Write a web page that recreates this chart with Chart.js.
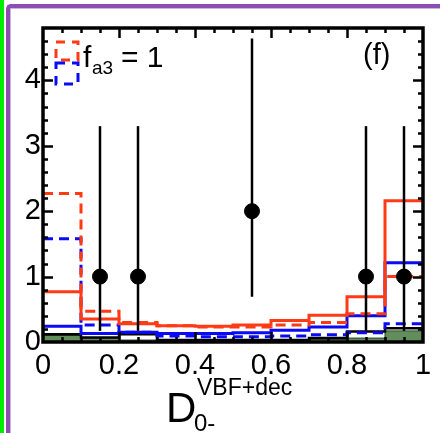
<!DOCTYPE html>
<html>
<head>
<meta charset="utf-8">
<script src="https://cdn.jsdelivr.net/npm/chart.js@4.4.1/dist/chart.umd.min.js"></script>
<style>
html, body { margin: 0; padding: 0; background: #fff; }
#wrap { position: relative; width: 440px; height: 433px; overflow: hidden; background: #fff; font-family: "Liberation Sans", Arial, Helvetica, sans-serif; color: #000; }
#c { position: absolute; left: 0; top: 0; }
.green-bar { position: absolute; left: 0; top: 0; width: 4px; height: 433px; background: #00ee00; }
.frame { position: absolute; left: 6px; top: 4px; width: 460px; height: 460px; border-top: 4px solid #8b4fb1; border-left: 4px solid #8b4fb1; border-top-left-radius: 5px; box-shadow: inset 1px 1px 0 #cdb4dd; }
.t { position: absolute; line-height: 1; white-space: nowrap; }
</style>
</head>
<body>
<div id="wrap">
  <div class="green-bar"></div>
  <div class="frame"></div>
  <canvas id="c" width="440" height="433"></canvas>
  <div class="t" style="left:83px;top:42px;font-size:30px">f</div>
  <div class="t" style="left:92px;top:58px;font-size:19px">a3</div>
  <div class="t" style="left:121px;top:42px;font-size:30px">= 1</div>
  <div class="t" style="left:363px;top:40px;font-size:29px">(f)</div>
  <div class="t" style="left:166px;top:387px;font-size:42px">D</div>
  <div class="t" style="left:197px;top:376px;font-size:23px">VBF+dec</div>
  <div class="t" style="left:194px;top:411px;font-size:24px">0-</div>
</div>
<script>
// bin edges of the 10 bins
const binEdges = [0, 0.1, 0.2, 0.3, 0.4, 0.5, 0.6, 0.7, 0.8, 0.9, 1.0];

// expected distributions
const redSolid  = [0.77, 0.35, 0.28, 0.25, 0.24, 0.26, 0.33, 0.41, 0.69, 2.16];
const redDashed = [2.27, 0.47, 0.30, 0.25, 0.23, 0.23, 0.26, 0.30, 0.43, 1.00];
const blueSolid = [0.24, 0.13, 0.15, 0.13, 0.13, 0.14, 0.18, 0.23, 0.40, 1.21];
const blueDashed = [1.58, 0.26, 0.15, 0.09, 0.08, 0.08, 0.09, 0.11, 0.14, 0.28];

// backgrounds
const bgTotal = [0.12, 0.07, 0.12, 0.03, 0.03, 0.03, 0.03, 0.06, 0.16, 0.21];
const bgGreen = [0.10, 0.06, 0.03, 0.02, 0.02, 0.02, 0.02, 0.04, 0.06, 0.17];

// observed events
const obsX  = [0.15, 0.25, 0.55, 0.85, 0.95];
const obsY  = [1, 1, 2, 1, 1];
const obsLo = [0.17, 0.17, 0.69, 0.17, 0.17];
const obsHi = [3.30, 3.30, 4.64, 3.30, 3.30];

const yTicks = [0, 1, 2, 3, 4];
const xTicks = [0, 0.2, 0.4, 0.6, 0.8, 1];

const RED = 'rgb(255,58,20)';
const BLUE = 'rgb(10,10,245)';
const FONT = '"Liberation Sans", Arial, Helvetica, sans-serif';

function hist(vals) {
    // one point per bin at its left edge, plus a closing point at the last edge
    const pts = vals.map((v, i) => ({ x: binEdges[i], y: v }));
    pts.push({ x: binEdges[binEdges.length - 1], y: vals[vals.length - 1] });
    return pts;
}

function line(data, color, dash, order) {
    return {
        data: hist(data),
        borderColor: color,
        borderWidth: 3,
        borderDash: dash,
        stepped: 'before',
        pointRadius: 0,
        fill: false,
        order
    };
}

// frame, inward ticks, error bars, legend boxes
const decor = {
    id: 'decor',
    afterDatasetsDraw(chart) {
        const { ctx, scales: { x, y } } = chart;
        ctx.save();
        ctx.strokeStyle = '#000';
        ctx.lineWidth = 2.5;
        obsX.forEach((v, i) => {
            const px = x.getPixelForValue(v);
            ctx.beginPath();
            ctx.moveTo(px, y.getPixelForValue(obsLo[i]));
            ctx.lineTo(px, y.getPixelForValue(obsHi[i]));
            ctx.stroke();
        });
        ctx.restore();
    },
    afterDraw(chart) {
        const { ctx, chartArea: a, scales: { x, y } } = chart;
        ctx.save();
        ctx.strokeStyle = '#000';
        ctx.lineWidth = 2.5;
        // y ticks every 0.2, major every 1
        for (let k = 1; k < 24; k++) {
            const py = Math.round(y.getPixelForValue(k * 0.2)) + 0.5;
            const len = (k % 5 === 0) ? 10 : 5;
            ctx.beginPath();
            ctx.moveTo(a.left, py); ctx.lineTo(a.left + len, py);
            ctx.moveTo(a.right, py); ctx.lineTo(a.right - len, py);
            ctx.stroke();
        }
        // x ticks every 0.05, major every 0.2
        for (let k = 1; k < 20; k++) {
            const px = Math.round(x.getPixelForValue(k * 0.05)) + 0.5;
            const len = (k % 4 === 0) ? 10 : 5;
            ctx.beginPath();
            ctx.moveTo(px, a.bottom); ctx.lineTo(px, a.bottom - len);
            ctx.moveTo(px, a.top); ctx.lineTo(px, a.top + len);
            ctx.stroke();
        }
        ctx.lineWidth = 3.5;
        ctx.strokeRect(a.left, a.top, a.right - a.left, a.bottom - a.top);

        // legend boxes
        ctx.lineWidth = 3;
        ctx.setLineDash([9, 7]);
        ctx.strokeStyle = RED;
        ctx.strokeRect(56, 42, 22, 18);
        ctx.strokeStyle = BLUE;
        ctx.strokeRect(56, 63, 22, 21);
        ctx.restore();
    }
};

new Chart(document.getElementById('c'), {
    type: 'line',
    data: {
        datasets: [
            {
                data: obsX.map((v, i) => ({ x: v, y: obsY[i] })),
                showLine: false,
                pointRadius: 7.5,
                pointBackgroundColor: '#000',
                pointBorderColor: '#000',
                order: 0
            },
            line(redSolid, RED, [], 1),
            line(redDashed, RED, [10, 6], 2),
            line(blueSolid, BLUE, [], 3),
            line(blueDashed, BLUE, [10, 6], 4),
            {
                data: hist(bgTotal),
                borderColor: '#000',
                borderWidth: 2.5,
                stepped: 'before',
                pointRadius: 0,
                fill: false,
                order: 5
            },
            {
                data: hist(bgGreen),
                borderColor: 'rgb(40,70,40)',
                borderWidth: 1,
                backgroundColor: 'rgb(98,142,92)',
                stepped: 'before',
                pointRadius: 0,
                fill: 'origin',
                order: 6
            }
        ]
    },
    options: {
        responsive: false,
        animation: false,
        events: [],
        layout: { padding: { top: 28, right: 17, left: 0, bottom: 0 } },
        plugins: { legend: { display: false }, tooltip: { enabled: false } },
        scales: {
            x: {
                type: 'linear',
                min: 0,
                max: 1,
                afterFit: (s) => { s.height = 91; },
                afterBuildTicks: (s) => { s.ticks = xTicks.map((v) => ({ value: v })); },
                grid: { display: false, drawTicks: false },
                border: { display: false },
                ticks: {
                    padding: 7,
                    color: '#000',
                    font: { family: FONT, size: 29 },
                    maxRotation: 0,
                    callback: (v) => String(v)
                }
            },
            y: {
                min: 0,
                max: 4.8,
                afterFit: (s) => { s.width = 43; },
                afterBuildTicks: (s) => { s.ticks = yTicks.map((v) => ({ value: v })); },
                grid: { display: false, drawTicks: false },
                border: { display: false },
                ticks: {
                    padding: 2,
                    color: '#000',
                    font: { family: FONT, size: 29 },
                    callback: (v) => String(v)
                }
            }
        }
    },
    plugins: [decor]
});
</script>
</body>
</html>
